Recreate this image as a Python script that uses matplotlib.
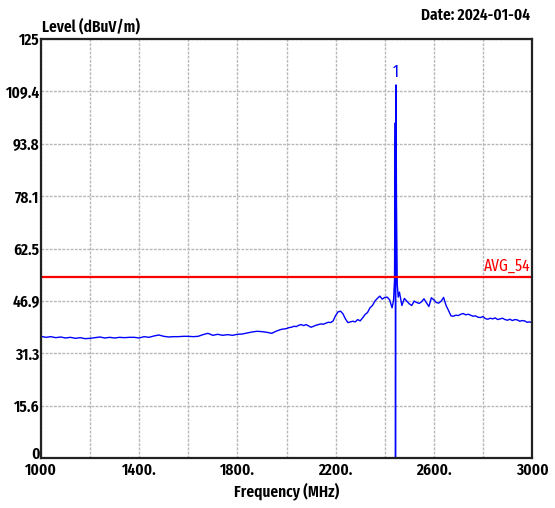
import matplotlib
matplotlib.use("Agg")
import matplotlib.pyplot as plt
from matplotlib.transforms import ScaledTranslation

# Dados (frequência em MHz, nível em dBuV/m)
freq_a = list(range(1000, 2000, 20))
lvl_a = [36.3, 36.0, 36.2, 35.9, 36.1, 35.8, 36.0, 35.7, 35.9, 35.6,
         35.7, 35.9, 36.1, 35.8, 36.0, 35.8, 36.0, 35.9, 36.0, 36.0,
         35.8, 36.2, 36.0, 36.4, 36.7, 36.3, 36.1, 36.2, 36.2, 36.3,
         36.3, 36.2, 36.3, 36.8, 37.2, 36.6, 36.9, 36.6, 36.8, 36.6,
         36.9, 37.0, 37.3, 37.6, 37.8, 37.7, 37.5, 37.2, 37.9, 38.4]

freq_b = list(range(2000, 2440, 10))
lvl_b = [38.6, 38.9, 39.0, 39.3, 39.2, 39.6, 39.8, 39.5, 39.8, 39.4,
         39.0, 39.3, 39.6, 39.8, 40.0, 39.9, 40.2, 40.5, 40.4, 40.9,
         42.5, 43.6, 43.8, 43.0, 41.5, 40.4, 40.6, 40.8, 40.6, 41.3,
         40.9, 41.8, 42.8, 43.4, 44.8, 45.5, 46.8, 47.6, 48.3, 47.4,
         47.9, 48.0, 47.2, 44.8]

# região do pico em 2.4 GHz
freq_pk = [2436, 2440, 2443, 2444, 2446, 2448, 2451, 2455, 2460]
lvl_pk = [47.0, 53.0, 100.0, 0.0, 111.3, 76.0, 52.0, 48.0, 49.5]

freq_c = list(range(2470, 3010, 10))
lvl_c = [45.5, 47.6, 46.8, 46.0, 45.5, 46.8, 46.4, 46.1, 46.6, 47.5,
         46.3, 45.2, 47.8, 47.2, 46.4, 46.2, 46.8, 47.9, 45.5, 44.0,
         42.4, 42.3, 42.6, 42.5, 42.9, 43.1, 42.7, 42.9, 42.6, 42.3,
         42.4, 42.0, 41.9, 42.2, 41.6, 41.4, 41.7, 41.5, 41.8, 41.3,
         41.5, 41.7, 41.3, 41.1, 41.4, 41.0, 41.3, 41.2, 40.8, 41.0,
         40.9, 40.5, 40.6, 40.4]

freq = freq_a + freq_b + freq_pk + freq_c
level = lvl_a + lvl_b + lvl_pk + lvl_c

limit = 54
limit_label = "AVG_54"
marker_freq = 2446
marker_level = 111.3

y_ticks = [0, 15.625, 31.25, 46.875, 62.5, 78.125, 93.75, 109.375, 125]
y_labels = ["0", "15.6", "31.3", "46.9", "62.5", "78.1", "93.8", "109.4", "125"]
x_ticks = list(range(1000, 3200, 200))
x_labels = ["1000", "", "1400.", "", "1800.", "", "2200.", "", "2600.", "", "3000"]

plt.rcParams['font.family'] = ['Fira Sans Extra Condensed', 'Roboto Condensed', 'DejaVu Sans']
fs = 12

fig = plt.figure(figsize=(5.55, 5.08), dpi=100)
ax = fig.add_axes([41 / 555, 50 / 508, 491 / 555, 419 / 508])

ax.plot(freq, level, color='#0000ff', lw=1.0)
ax.axhline(limit, color='#ff0000', lw=1.6)
ax.text(2995, limit + 0.8, limit_label, color='#ff0000', ha='right', va='bottom', fontsize=fs)
ax.text(marker_freq - 2, marker_level + 1.5, "1", color='#0000ff', ha='center', va='bottom', fontsize=fs)

ax.set_xlim(1000, 3000)
ax.set_ylim(0, 125)
ax.set_xticks(x_ticks)
ax.set_xticklabels(x_labels)
ax.set_yticks(y_ticks)
ax.set_yticklabels(y_labels)
ax.tick_params(length=0, labelsize=fs, pad=1)
ax.tick_params(axis='x', pad=3)
for lab in ax.get_xticklabels() + ax.get_yticklabels():
    lab.set_fontweight('semibold')
# o "0" fica um pouco acima para não bater no "1000"
lab0 = ax.get_yticklabels()[0]
lab0.set_transform(lab0.get_transform() + ScaledTranslation(0, 4 / 72, fig.dpi_scale_trans))

ax.grid(color='#b8b8b8', linestyle=(0, (2, 1)), lw=1.0)
for s in ax.spines.values():
    s.set_linewidth(1.6)
    s.set_color('#222222')

ax.set_xlabel('Frequency (MHz)', fontsize=fs, fontweight='semibold', labelpad=3)
fig.text(42 / 555, 1 - 27 / 508, 'Level (dBuV/m)', fontsize=fs, fontweight='semibold', va='center', ha='left')
fig.text(530 / 555, 1 - 15 / 508, 'Date: 2024-01-04', fontsize=fs, fontweight='semibold', va='center', ha='right')

plt.savefig('out.png', dpi=100)
